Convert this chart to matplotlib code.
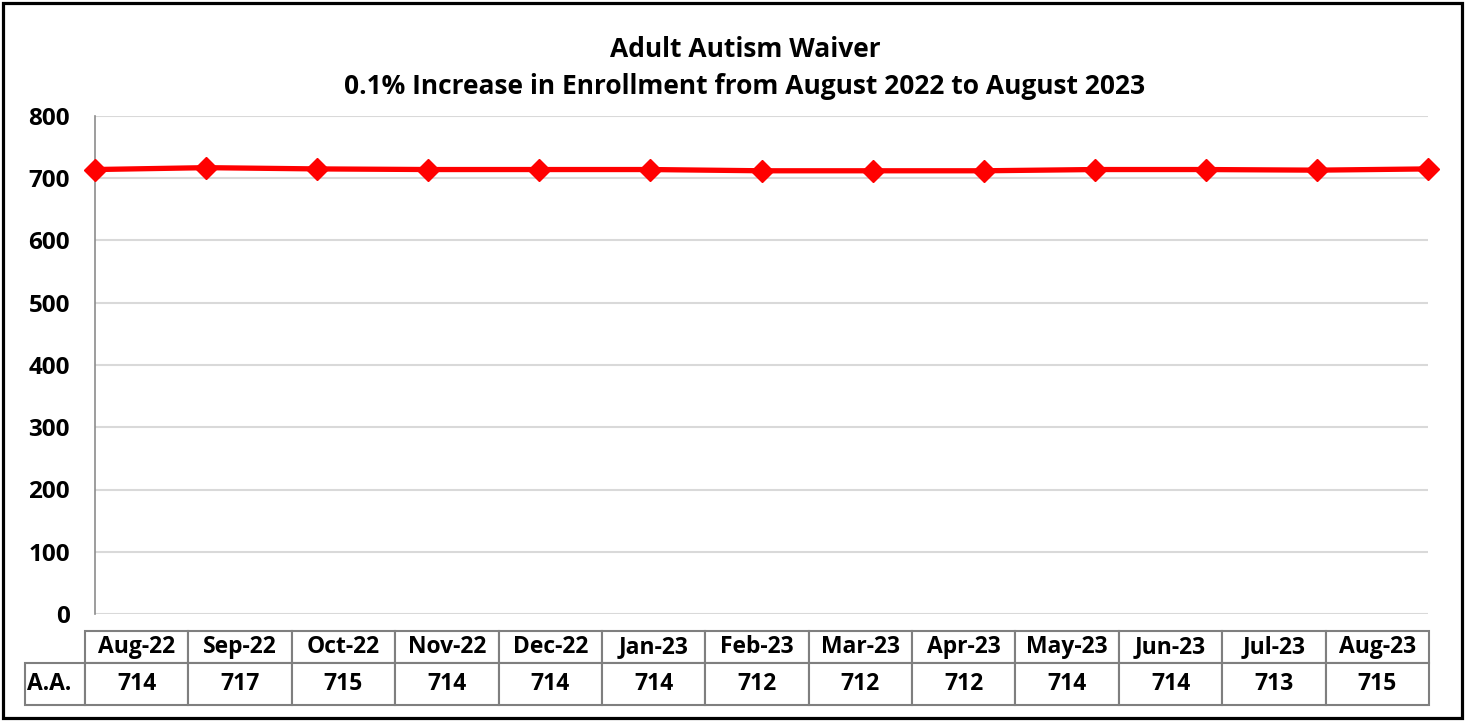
import matplotlib
matplotlib.use('Agg')
from matplotlib import pyplot as plt
from matplotlib.patches import Rectangle
from matplotlib.table import Table

months = ['Aug-22', 'Sep-22', 'Oct-22', 'Nov-22', 'Dec-22', 'Jan-23', 'Feb-23',
          'Mar-23', 'Apr-23', 'May-23', 'Jun-23', 'Jul-23', 'Aug-23']
enrollment = [714, 717, 715, 714, 714, 714, 712, 712, 712, 714, 714, 713, 715]
series_name = 'A.A.'
title = 'Adult Autism Waiver\n0.1% Increase in Enrollment from August 2022 to August 2023'
y_ticks = [0, 100, 200, 300, 400, 500, 600, 700, 800]

plt.rcParams['font.family'] = ['Open Sans', 'DejaVu Sans']
plt.rcParams['font.weight'] = 'bold'

W, H = 1465, 721
fig = plt.figure(figsize=(W / 100, H / 100), dpi=100)

# outer frame
fig.patches.append(Rectangle((3 / W, 3 / H), (W - 6) / W, (H - 6) / H,
                             transform=fig.transFigure, fill=False,
                             edgecolor='black', linewidth=2.3))

ax = fig.add_axes([95 / W, 1 - 614 / H, (1428 - 95) / W, (614 - 116) / H])
x = list(range(len(months)))
ax.plot(x, enrollment, color='#ff0000', linewidth=3.8, marker='D',
        markersize=11.5, markerfacecolor='#ff0000', markeredgecolor='#ff0000',
        solid_joinstyle='round', zorder=3, clip_on=False)
ax.set_xlim(0, len(months) - 1)
ax.set_ylim(0, 800)
ax.set_yticks(y_ticks)
ax.set_xticks([])
ax.yaxis.grid(True, color='#d9d9d9', linewidth=1.5)
ax.set_axisbelow(True)
for s in ['top', 'right', 'bottom']:
    ax.spines[s].set_visible(False)
ax.spines['left'].set_color('#8c8c8c')
ax.spines['left'].set_linewidth(1.2)
ax.tick_params(axis='y', length=0, pad=18, labelsize=17.5)
for lab in ax.get_yticklabels():
    lab.set_fontweight('bold')
ax.patch.set_alpha(0)

fig.text(745 / W, 1 - 68 / H, title, ha='center', va='center', fontsize=19,
         fontweight='bold', linespacing=1.5)

# data table under the plot
tax = fig.add_axes([25 / W, 1 - 705 / H, (1429 - 25) / W, (705 - 631) / H])
tax.axis('off')
tbl = Table(tax, bbox=[0, 0, 1, 1])
label_w = 60.0
col_w = (1429 - 85) / len(months)
h_head, h_val = 32.0, 42.0
tsize = 16.5


def style(c):
    c.get_text().set_fontweight('bold')
    c.get_text().set_fontsize(tsize)
    c.set_edgecolor('#7f7f7f')
    c.set_linewidth(1.5)


for j, m in enumerate(months):
    style(tbl.add_cell(0, j + 1, width=col_w, height=h_head, text=m, loc='center'))
    style(tbl.add_cell(1, j + 1, width=col_w, height=h_val, text=str(enrollment[j]), loc='center'))
c = tbl.add_cell(1, 0, width=label_w, height=h_val, text=series_name, loc='left')
style(c)
c.PAD = 0.04
tbl.auto_set_font_size(False)
tax.add_table(tbl)

fig.savefig('out.png', dpi=100)
